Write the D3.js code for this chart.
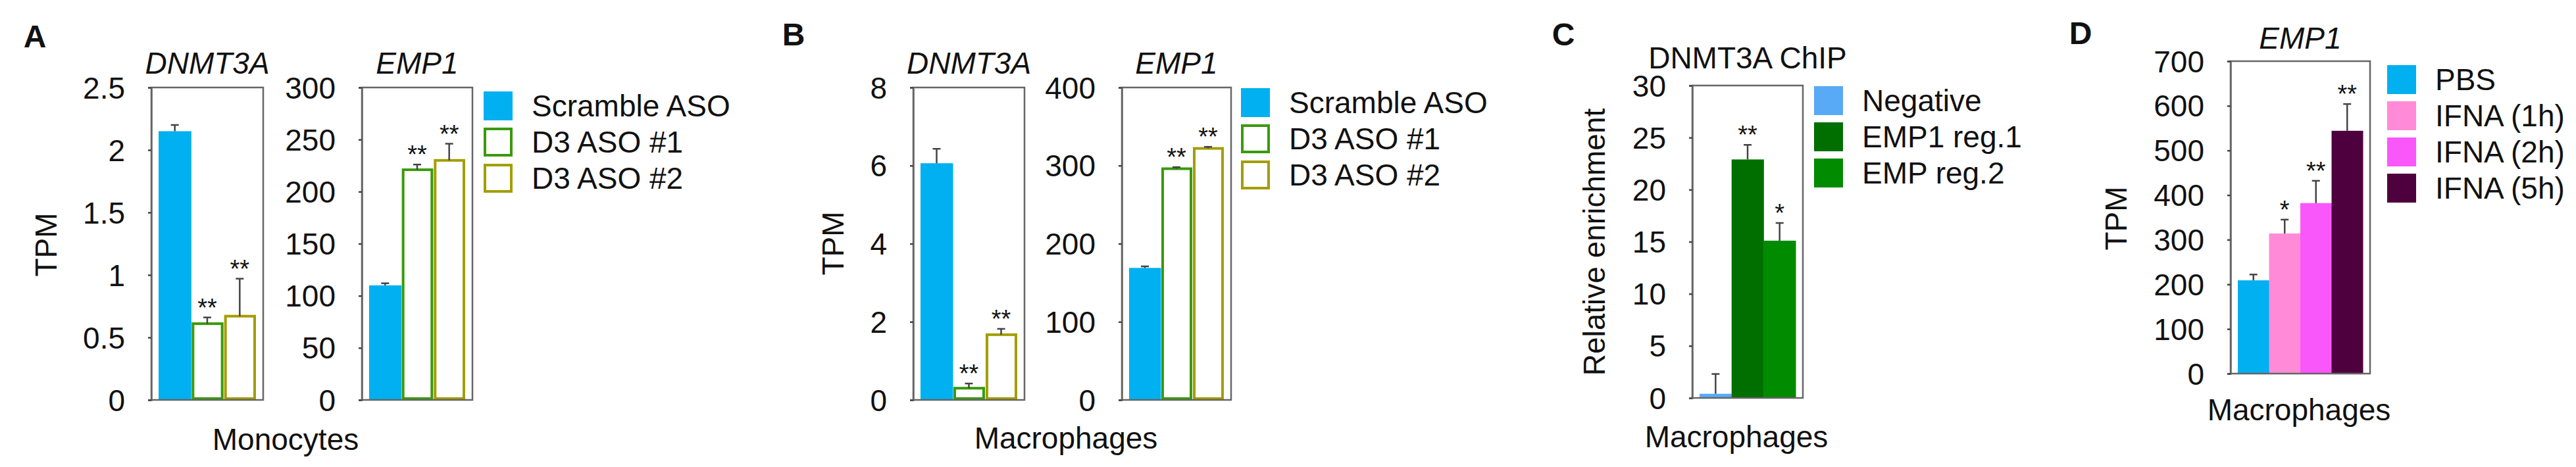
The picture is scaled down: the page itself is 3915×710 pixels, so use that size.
<!DOCTYPE html>
<html>
<head>
<meta charset="utf-8">
<script src="https://cdn.jsdelivr.net/npm/d3@7"></script>
<style>
  body { margin: 0; background: #fff; }
  svg { display: block; font-family: "Liberation Sans", Arial, Helvetica, sans-serif; }
</style>
</head>
<body>
<svg id="fig" width="3915" height="710"></svg>
<script>
// ---- data ----
const asoGroups = ["Scramble ASO", "D3 ASO #1", "D3 ASO #2"];

const monoDnmt3a = [2.15, 0.61, 0.67];
const monoDnmt3aErr = [0.05, 0.05, 0.30];
const monoDnmt3aSig = ["", "**", "**"];
const monoDnmt3aTicks = [0, 0.5, 1, 1.5, 2, 2.5];

const monoEmp1 = [110, 221, 230];
const monoEmp1Err = [2, 5, 16];
const monoEmp1Sig = ["", "**", "**"];
const monoEmp1Ticks = [0, 50, 100, 150, 200, 250, 300];

const macDnmt3a = [6.06, 0.30, 1.67];
const macDnmt3aErr = [0.37, 0.12, 0.15];
const macDnmt3aSig = ["", "**", "**"];
const macDnmt3aTicks = [0, 2, 4, 6, 8];

const macEmp1 = [169, 296, 322];
const macEmp1Err = [2, 2, 2];
const macEmp1Sig = ["", "**", "**"];
const macEmp1Ticks = [0, 100, 200, 300, 400];

const chipGroups = ["Negative", "EMP1 reg.1", "EMP reg.2"];
const chipValues = [0.4, 22.9, 15.1];
const chipErr = [1.9, 1.4, 1.7];
const chipSig = ["", "**", "*"];
const chipTicks = [0, 5, 10, 15, 20, 25, 30];

const ifnaGroups = ["PBS", "IFNA (1h)", "IFNA (2h)", "IFNA (5h)"];
const ifnaValues = [209, 314, 382, 544];
const ifnaErr = [13, 31, 50, 60];
const ifnaSig = ["", "*", "**", "**"];
const ifnaTicks = [0, 100, 200, 300, 400, 500, 600, 700];

// ---- styles ----
const asoStyle = [
  { fill: "#00B0F0", stroke: null },
  { fill: "#fff", stroke: "#3A9A0C" },
  { fill: "#fff", stroke: "#A39E00" },
];
const chipStyle = [
  { fill: "#58AAF6", stroke: null },
  { fill: "#006F00", stroke: null },
  { fill: "#008B00", stroke: null },
];
const ifnaStyle = [
  { fill: "#00B0F0", stroke: null },
  { fill: "#FF8BD8", stroke: null },
  { fill: "#F957F9", stroke: null },
  { fill: "#4E003E", stroke: null },
];

const svg = d3.select("#fig");
svg.append("rect").attr("width", 3915).attr("height", 710).attr("fill", "#fff");

const FONT = 46;
const AXIS_COL = "#666";

function label(x, y, txt, opts = {}) {
  const t = svg.append("text")
    .attr("x", x).attr("y", y)
    .attr("dy", "0.35em")
    .attr("text-anchor", opts.anchor || "middle")
    .attr("font-size", opts.size || FONT)
    .attr("fill", "#111")
    .text(txt);
  if (opts.italic) t.attr("font-style", "italic");
  if (opts.bold) t.attr("font-weight", "bold");
  if (opts.rotate) t.attr("transform", `rotate(-90,${x},${y})`);
  return t;
}

function drawPanel(p) {
  const y = d3.scaleLinear()
    .domain([0, p.ticks[p.ticks.length - 1]])
    .range([p.bottom, p.top]);
  const x = d3.scaleBand()
    .domain(p.groups)
    .range([p.left + 11, p.right - 11])
    .padding(0);

  const g = svg.append("g");

  // bars
  p.values.forEach((v, i) => {
    const st = p.style[i];
    const bx = x(p.groups[i]);
    const bw = x.bandwidth();
    if (st.stroke) {
      g.append("rect")
        .attr("x", bx + 3).attr("y", y(v))
        .attr("width", bw - 5).attr("height", y(0) - y(v) - 2)
        .attr("fill", st.fill).attr("stroke", st.stroke).attr("stroke-width", 4);
    } else {
      g.append("rect")
        .attr("x", bx).attr("y", y(v))
        .attr("width", bw + 0.5).attr("height", y(0) - y(v))
        .attr("fill", st.fill);
    }
    // error bar (upper only)
    const cx = bx + bw / 2;
    const top = y(v + p.err[i]);
    g.append("line")
      .attr("x1", cx).attr("x2", cx).attr("y1", y(v)).attr("y2", top)
      .attr("stroke", "#444").attr("stroke-width", 2.5);
    g.append("line")
      .attr("x1", cx - 6).attr("x2", cx + 6).attr("y1", top).attr("y2", top)
      .attr("stroke", "#444").attr("stroke-width", 2.5);
    if (p.sig[i]) {
      g.append("text")
        .attr("x", cx).attr("y", top - 2)
        .attr("text-anchor", "middle")
        .attr("font-size", 38)
        .attr("fill", "#111")
        .text(p.sig[i]);
    }
  });

  // frame
  g.append("rect")
    .attr("x", p.left).attr("y", p.top)
    .attr("width", p.right - p.left).attr("height", p.bottom - p.top)
    .attr("fill", "none").attr("stroke", AXIS_COL).attr("stroke-width", 2.5);

  // y axis
  const ax = g.append("g")
    .attr("transform", `translate(${p.left},0)`)
    .call(d3.axisLeft(y).tickValues(p.ticks).tickSize(5).tickPadding(35)
      .tickFormat(d3.format("")));
  ax.select(".domain").attr("stroke", AXIS_COL).attr("stroke-width", 2.5);
  ax.selectAll(".tick line").attr("stroke", "#444").attr("stroke-width", 2.5);
  ax.selectAll(".tick text")
    .attr("font-size", FONT)
    .attr("font-family", "'Liberation Sans', Arial, sans-serif")
    .attr("fill", "#111")
    .attr("dy", "0.35em");

  if (p.title) label((p.left + p.right) / 2, p.titleY, p.title, { italic: p.italicTitle !== false });
}

function drawLegend(lx, ly, groups, style) {
  groups.forEach((name, i) => {
    const st = style[i];
    const sy = ly + i * 55;
    if (st.stroke) {
      svg.append("rect")
        .attr("x", lx + 2).attr("y", sy + 2).attr("width", 40).attr("height", 40)
        .attr("fill", "#fff").attr("stroke", st.stroke).attr("stroke-width", 4);
    } else {
      svg.append("rect")
        .attr("x", lx).attr("y", sy).attr("width", 44).attr("height", 44)
        .attr("fill", st.fill);
    }
    label(lx + 73, sy + 22, name, { anchor: "start" });
  });
}

// ---- Panel A ----
label(53, 55, "A", { bold: true, size: 48 });
label(70, 372, "TPM", { rotate: true });
drawPanel({ left: 230, right: 400, top: 133, bottom: 608, groups: asoGroups,
  values: monoDnmt3a, err: monoDnmt3aErr, sig: monoDnmt3aSig, ticks: monoDnmt3aTicks,
  style: asoStyle, title: "DNMT3A", titleY: 96 });
drawPanel({ left: 550, right: 718, top: 133, bottom: 608, groups: asoGroups,
  values: monoEmp1, err: monoEmp1Err, sig: monoEmp1Sig, ticks: monoEmp1Ticks,
  style: asoStyle, title: "EMP1", titleY: 96 });
drawLegend(735, 139, asoGroups, asoStyle);
label(434, 668, "Monocytes");

// ---- Panel B ----
label(1206, 52, "B", { bold: true, size: 48 });
label(1266, 370, "TPM", { rotate: true });
drawPanel({ left: 1388, right: 1557, top: 133, bottom: 608, groups: asoGroups,
  values: macDnmt3a, err: macDnmt3aErr, sig: macDnmt3aSig, ticks: macDnmt3aTicks,
  style: asoStyle, title: "DNMT3A", titleY: 96 });
drawPanel({ left: 1705, right: 1871, top: 133, bottom: 608, groups: asoGroups,
  values: macEmp1, err: macEmp1Err, sig: macEmp1Sig, ticks: macEmp1Ticks,
  style: asoStyle, title: "EMP1", titleY: 96 });
drawLegend(1886, 134, asoGroups, asoStyle);
label(1620, 666, "Macrophages");

// ---- Panel C ----
label(2376, 52, "C", { bold: true, size: 48 });
label(2423, 368, "Relative enrichment", { rotate: true });
drawPanel({ left: 2572, right: 2740, top: 130, bottom: 605, groups: chipGroups,
  values: chipValues, err: chipErr, sig: chipSig, ticks: chipTicks,
  style: chipStyle, title: "DNMT3A ChIP", titleY: 88, italicTitle: false });
drawLegend(2757, 131, chipGroups, chipStyle);
label(2639, 664, "Macrophages");

// ---- Panel D ----
label(3162, 50, "D", { bold: true, size: 48 });
label(3216, 332, "TPM", { rotate: true });
drawPanel({ left: 3390, right: 3602, top: 93, bottom: 568, groups: ifnaGroups,
  values: ifnaValues, err: ifnaErr, sig: ifnaSig, ticks: ifnaTicks,
  style: ifnaStyle, title: "EMP1", titleY: 58 });
drawLegend(3628, 99, ifnaGroups, ifnaStyle);
label(3494, 623, "Macrophages");
</script>
</body>
</html>
